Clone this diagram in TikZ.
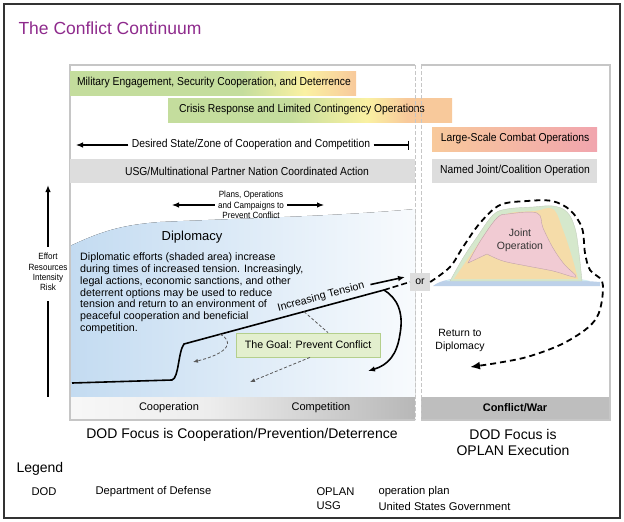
\documentclass[tikz,border=0pt]{standalone}
\usepackage{fontspec}
\setmainfont{Liberation Sans}
\newfontfamily\narrowfont[FakeStretch=0.9]{Liberation Sans}
\usetikzlibrary{arrows.meta,calc}
\definecolor{titlepurple}{HTML}{8E2A8C}
\definecolor{bargreen}{HTML}{C4DD9D}
\definecolor{baryellow}{HTML}{FAF1A2}
\definecolor{barorange}{HTML}{F8C99B}
\definecolor{barpink}{HTML}{F1A5AE}
\definecolor{bargray}{HTML}{DDDDDD}
\definecolor{panelgray}{HTML}{C6C6C6}
\definecolor{warbar}{HTML}{BEBEBE}
\definecolor{diplblue}{HTML}{C3DBF1}
\definecolor{goalfill}{HTML}{E3EFCE}
\definecolor{goalline}{HTML}{B4CF8C}
\definecolor{mtgreen}{HTML}{D5E8CC}
\definecolor{mtorange}{HTML}{F5DCA9}
\definecolor{mtpink}{HTML}{F1CBD3}
\definecolor{mtcyan}{HTML}{D3ECF1}
\definecolor{mtblue}{HTML}{BDD1E9}
\pgfdeclarehorizontalshading{milshade}{100bp}{color(0bp)=(bargreen); color(55bp)=(bargreen); color(66bp)=(baryellow); color(75bp)=(barorange); color(100bp)=(barorange)}
\pgfdeclarehorizontalshading{crisshade}{100bp}{color(0bp)=(bargreen); color(46bp)=(bargreen); color(60bp)=(baryellow); color(67bp)=(barorange); color(100bp)=(barorange)}
\pgfdeclarehorizontalshading{coopshade}{100bp}{color(0bp)=(white); color(25bp)=(white!97!black); color(45bp)=(white!93!black); color(75bp)=(white!72!black); color(100bp)=(white!72!black)}
\begin{document}
\begin{tikzpicture}[x=1pt,y=-1pt,>={Latex[length=7pt,width=5.5pt]},
  bartext/.style={font=\narrowfont\fontsize{11.5}{13}\selectfont},
  smalltext/.style={font=\narrowfont\fontsize{9}{10.4}\selectfont,align=center},
  bodytext/.style={font=\fontsize{10.7}{11.7}\selectfont},
  panel/.style={draw=panelgray,line width=1.5pt},
  split/.style={draw=panelgray,line width=0.8pt,dash pattern=on 4pt off 2pt},
  prevent/.style={draw=black!65,line width=0.8pt,dash pattern=on 3pt off 2pt,>={Latex[length=5pt,width=4pt]}},
  tensionline/.style={line width=1.6pt},
  backtrack/.style={line width=1.8pt,dash pattern=on 6pt off 4pt,>={Latex[length=10pt,width=8pt]}},
  legendtext/.style={font=\fontsize{11.2}{13}\selectfont,anchor=west}]
\useasboundingbox (0,0) rectangle (624,522);
\draw[black!80,line width=1.2pt] (4,4) rectangle (620,518);
\node[anchor=west,text=titlepurple,font=\fontsize{17.5}{20}\selectfont] (title) at (15,28) {The Conflict Continuum};

% panel backgrounds
\fill[left color=diplblue,right color=diplblue!12] (70,246) .. controls (100,232) and (120,225) .. (160,222) .. controls (250,218) and (340,216) .. (415,209) -- (415,397) -- (70,397) -- cycle;
\shade[shading=coopshade] (70,397) rectangle (415,420);
\fill[warbar] (421,397) rectangle (610,420);
\draw[panel] (415,65) -- (70,65) -- (70,420) -- (415,420);
\draw[panel] (421,65) -- (610,65) -- (610,420) -- (421,420);

% bars
\shade[shading=milshade] (70,71) rectangle (356,95);
\node[bartext] (meng) at (214,83) {Military Engagement, Security Cooperation, and Deterrence};
\shade[shading=crisshade] (168,98) rectangle (452,122);
\node[bartext] (crisis) at (302,110) {Crisis Response and Limited Contingency Operations};
\shade[left color=barorange,right color=barpink] (432,127) rectangle (597,151);
\node[bartext] (lsco) at (515,139) {Large-Scale Combat Operations};
\fill[bargray] (70,159) rectangle (415,183);
\node[bartext] (usg) at (247,171) {USG/Multinational Partner Nation Coordinated Action};
\fill[bargray] (432,159) rectangle (597,183);
\node[bartext] (named) at (515,171) {Named Joint/Coalition Operation};
\node[bartext] (desired) at (251,145) {Desired State/Zone of Cooperation and Competition};
\draw[->,line width=1.1pt] (desired.west) -- (76,145);
\draw[-{Bar[width=9pt]},line width=1.1pt] (desired.east) -- (409,145);
\draw[split] (415,65) -- (415,420);
\draw[split] (421,65) -- (421,420);

% left side
\node[smalltext] (plans) at (251,205) {Plans, Operations\\and Campaigns to\\Prevent Conflict};
\draw[->,line width=1.1pt] (plans.west) -- (172,205);
\draw[->,line width=1.1pt] (plans.east) -- (324,205);
\node[smalltext] (effort) at (48,272) {Effort\\Resources\\Intensity\\Risk};
\draw[->,line width=1.6pt] ([yshift=3pt]effort.north) -- (48,185);
\draw[line width=1.6pt] ([yshift=-7pt]effort.south) -- (48,397);
\node[font=\fontsize{13}{15}\selectfont] (dipl) at (192,237) {Diplomacy};
\node[bodytext,anchor=north west,align=left,inner sep=0pt] (dipltext) at (80,253) {Diplomatic efforts (shaded area) increase\\during times of increased tension. Increasingly,\\legal actions, economic sanctions, and other\\deterrent options may be used to reduce\\tension and return to an environment of\\peaceful cooperation and beneficial\\competition.};
\node[fill=bargray,minimum width=20pt,minimum height=18pt,inner sep=0pt,font=\fontsize{10.5}{12}\selectfont] (or) at (420,282) {or};

\coordinate (t0) at (72,383);
\coordinate (t1) at (172,380);
\coordinate (t2) at (184,344);
\coordinate (t3) at (384,290);
\draw[tensionline] (t0) -- (t1) .. controls (179,378) and (178,352) .. (t2) -- (t3);
\draw[tensionline,dash pattern=on 6pt off 3pt] (t3) -- (or.west);
\draw[tensionline,->] (t3) .. controls (397,298) and (404,312) .. (400,334) .. controls (397,355) and (388,365) .. (368,371);
\node[font=\fontsize{10.7}{12}\selectfont,rotate=15] (incr) at (321,297) {Increasing Tension};
\draw[tensionline,->] ([xshift=3pt]incr.east) -- (405,277);

\node[draw=goalline,fill=goalfill,line width=0.8pt,minimum width=144pt,minimum height=24pt,font=\fontsize{10.7}{12}\selectfont] (goal) at (308,345) {The Goal: Prevent Conflict};
\draw[prevent,->] ($(t2)!0.18!(t3)$) .. controls (234,341) and (230,353) .. (193,362);
\draw[prevent] ($(t2)!0.6!(t3)$) -- ([xshift=20pt]goal.north);
\draw[prevent,->] ([xshift=2pt]goal.south) -- (250,382);

% right side
\fill[mtblue] (433,286) .. controls (440,280) and (455,278) .. (470,277) .. controls (500,279) and (550,278) .. (600,282) -- (600,286) -- cycle;
\fill[mtcyan] (445,281) .. controls (460,276) and (480,273) .. (500,274) .. controls (530,275) and (570,276) .. (590,281) -- cycle;
\fill[mtgreen,draw=mtgreen!80!black!70] plot[smooth,tension=0.6] coordinates {(450,281) (463,258) (477,237) (493,215) (507,209) (533,207) (553,206) (567,212) (575,228) (579,253) (582,281)} -- cycle;
\fill[mtorange] plot[smooth,tension=0.6] coordinates {(454,279) (467,260) (481,240) (496,220) (510,213) (535,211) (553,209) (563,230) (572,257) (578,279)} -- cycle;
\fill[mtpink,draw=mtpink!80!black] plot[smooth,tension=0.6] coordinates {(468,263) (481,240) (497,218) (508,214) (537,213) (543,228) (553,248) (564,264) (576,277) (553,271) (527,266) (503,261) (487,254)} -- cycle;
\node[font=\fontsize{10.5}{13}\selectfont,align=center,text=black!80] (joint) at (520,240) {Joint\\Operation};
\draw[backtrack,->] plot[smooth,tension=0.55] coordinates {(or.east) (450,267) (463,247) (480,223) (500,205) (527,201) (552,201) (570,210) (582,228) (585,253) (590,270) (602,281) (602,300) (597,317) (585,330) (560,345) (527,357) (497,363) (470,367)};
\node[font=\fontsize{10.5}{13}\selectfont,align=center] (ret) at (460,340) {Return to\\Diplomacy};

% bottom labels
\node[font=\fontsize{11}{13}\selectfont] (coop) at (169,408) {Cooperation};
\node[font=\fontsize{11}{13}\selectfont] (comp) at (321,408) {Competition};
\node[font=\bfseries\fontsize{11}{13}\selectfont] (war) at (515,408) {Conflict/War};
\node[font=\fontsize{14}{16}\selectfont] (focusl) at (242,435) {DOD Focus is Cooperation/Prevention/Deterrence};
\node[font=\fontsize{14}{16}\selectfont,align=center] (focusr) at (513,442) {DOD Focus is\\OPLAN Execution};

% legend
\node[anchor=west,font=\fontsize{14}{16}\selectfont] (legend) at (13,469) {Legend};
\node[legendtext] (dod) at (28,492) {DOD};
\node[legendtext] (dodtxt) at (92,492) {Department of Defense};
\node[legendtext] (oplan) at (313,492) {OPLAN};
\node[legendtext] (oplantxt) at (375,492) {operation plan};
\node[legendtext] (usgk) at (313,506) {USG};
\node[legendtext] (usgtxt) at (375,506) {United States Government};
\end{tikzpicture}
\end{document}
